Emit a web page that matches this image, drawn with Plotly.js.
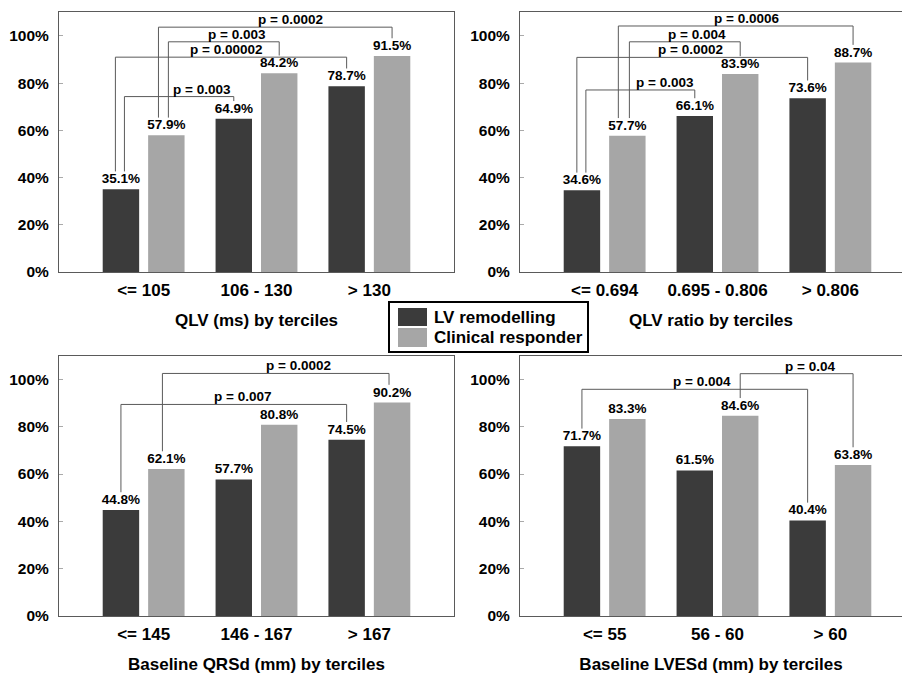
<!DOCTYPE html>
<html><head><meta charset="utf-8">
<script src="https://cdn.plot.ly/plotly-3.0.1.min.js"></script>
<style>html,body{margin:0;padding:0;background:#fff}#chart{width:902px;height:675px}</style>
</head><body><div id="chart"></div>
<script>
// ---------- data ----------
const seriesNames = ['LV remodelling', 'Clinical responder'];

const qlvCats = ['<= 105', '106 - 130', '> 130'];
const qlvLV = [35.1, 64.9, 78.7];
const qlvCR = [57.9, 84.2, 91.5];
const qlvP = ['0.0002', '0.003', '0.00002', '0.003'];
// comparisons: [categoryA, seriesA, categoryB, seriesB]  (series 0 = LV, 1 = CR)
const qlvPairs = [[0, 1, 2, 1], [0, 1, 1, 1], [0, 0, 2, 0], [0, 0, 1, 0]];

const ratioCats = ['<= 0.694', '0.695 - 0.806', '> 0.806'];
const ratioLV = [34.6, 66.1, 73.6];
const ratioCR = [57.7, 83.9, 88.7];
const ratioP = ['0.0006', '0.004', '0.0002', '0.003'];
const ratioPairs = [[0, 1, 2, 1], [0, 1, 1, 1], [0, 0, 2, 0], [0, 0, 1, 0]];

const qrsCats = ['<= 145', '146 - 167', '> 167'];
const qrsLV = [44.8, 57.7, 74.5];
const qrsCR = [62.1, 80.8, 90.2];
const qrsP = ['0.0002', '0.007'];
const qrsPairs = [[0, 1, 2, 1], [0, 0, 2, 0]];

const lvesCats = ['<= 55', '56 - 60', '> 60'];
const lvesLV = [71.7, 61.5, 40.4];
const lvesCR = [83.3, 84.6, 63.8];
const lvesP = ['0.04', '0.004'];
const lvesPairs = [[1, 1, 2, 1], [0, 0, 2, 0]];

const axisTitles = ['QLV (ms) by terciles', 'QLV ratio by terciles',
                    'Baseline QRSd (mm) by terciles', 'Baseline LVESd (mm) by terciles'];
const yTicks = [0, 20, 40, 60, 80, 100];
const yTickLabels = ['0%', '20%', '40%', '60%', '80%', '100%'];

// ---------- layout / style ----------
const W = 902, H = 675;
const DARK = '#3b3b3b', LIGHT = '#a6a6a6', FRAME = '#5a5a5a';
const FONT = 'Liberation Sans, Arial, sans-serif';
const BARGAP = 0.195, GROUPGAP = 0.198;
const OFF = (1 - BARGAP) / 4;   // bar centre offset from category centre
const LIFT = 7.5;               // bracket end clearance above bar

// bracket placement: level (y), small x-offsets at ends, text x
const bracketLayouts = [
  [{h: 103.7, da: -0.07, db: 0, tx: 1.30}, {h: 97.5, da: 0.018, db: 0, tx: 0.823},
   {h: 91.0, da: -0.049, db: 0, tx: 0.726}, {h: 74.3, da: 0.031, db: 0, tx: 0.513}],
  [{h: 104.2, da: -0.08, db: 0, tx: 1.26}, {h: 97.5, da: 0.018, db: 0, tx: 0.817},
   {h: 90.9, da: -0.045, db: 0, tx: 0.76}, {h: 77.1, da: 0.035, db: 0, tx: 0.534}],
  [{h: 102.5, da: -0.035, db: -0.027, tx: 1.37}, {h: 89.4, da: 0, db: 0, tx: 0.877}],
  [{h: 102.4, da: 0, db: 0, tx: 1.82}, {h: 95.8, da: 0, db: 0, tx: 0.866}]
];

const panels = [
  {cats: qlvCats, lv: qlvLV, cr: qlvCR, p: qlvP, pairs: qlvPairs},
  {cats: ratioCats, lv: ratioLV, cr: ratioCR, p: ratioP, pairs: ratioPairs},
  {cats: qrsCats, lv: qrsLV, cr: qrsCR, p: qrsP, pairs: qrsPairs},
  {cats: lvesCats, lv: lvesLV, cr: lvesCR, p: lvesP, pairs: lvesPairs}
];

// pixel geometry of frames
const UNIT = 395 / 3.5;
const xDomL = [59 / W, 454 / W], xDomR = [520 / W, 1];
const yDomT = [1 - 272 / H, 1 - 12.3 / H], yDomB = [1 - 616 / H, 1 - 355.7 / H];
const rangeL = [-0.75, 2.75], rangeR = [-0.75, -0.75 + (W - 520) / UNIT];

const traces = [];
const shapes = [];
const annotations = [];
const layout = {
  width: W, height: H,
  margin: {l: 0, r: 0, t: 0, b: 0},
  paper_bgcolor: '#fff', plot_bgcolor: '#fff',
  showlegend: false,
  barmode: 'group', bargap: BARGAP, bargroupgap: GROUPGAP,
  font: {family: FONT, color: '#000'}
};

panels.forEach((pn, i) => {
  const n = i + 1;
  const xa = 'x' + (n === 1 ? '' : n), ya = 'y' + (n === 1 ? '' : n);
  const isLeft = (i % 2 === 0), isTop = i < 2;
  const barCommon = {
    type: 'bar', x: pn.cats, xaxis: xa, yaxis: ya,
    texttemplate: '%{y:.1f}%', textposition: 'outside', constraintext: 'none',
    cliponaxis: false,
    textfont: {family: FONT, size: 13.5, weight: 'bold', color: '#000'},
    hoverinfo: 'skip'
  };
  traces.push(Object.assign({}, barCommon, {y: pn.lv, name: seriesNames[0], marker: {color: DARK, line: {width: 0}}}));
  traces.push(Object.assign({}, barCommon, {y: pn.cr, name: seriesNames[1], marker: {color: LIGHT, line: {width: 0}}}));

  layout['xaxis' + (n === 1 ? '' : n)] = {
    domain: isLeft ? xDomL : xDomR,
    anchor: ya, type: 'category',
    range: isLeft ? rangeL : rangeR,
    showline: true, mirror: true, linecolor: FRAME, linewidth: 1,
    ticks: '', showgrid: false, zeroline: false,
    tickfont: {family: FONT, size: 17, weight: 'bold', color: '#000'},
    ticklabelstandoff: 3,
    title: {text: axisTitles[i], font: {family: FONT, size: 17, weight: 'bold', color: '#000'}, standoff: 14},
    fixedrange: true
  };
  layout['yaxis' + (n === 1 ? '' : n)] = {
    domain: isTop ? yDomT : yDomB,
    anchor: xa, range: [0, 110],
    tickmode: 'array', tickvals: yTicks, ticktext: yTickLabels,
    ticks: 'inside', ticklen: 4, tickcolor: '#aaaaaa', tickwidth: 1,
    showline: true, mirror: isLeft, linecolor: FRAME, linewidth: 1,
    showgrid: false, zeroline: false,
    tickfont: {family: FONT, size: 15.5, weight: 'bold', color: '#000'},
    ticklabelstandoff: 6,
    fixedrange: true
  };

  const vals = [pn.lv, pn.cr];
  pn.pairs.forEach((pr, k) => {
    const L = bracketLayouts[i][k];
    const xA = pr[0] + (pr[1] === 0 ? -OFF : OFF) + L.da;
    const xB = pr[2] + (pr[3] === 0 ? -OFF : OFF) + L.db;
    const yA = vals[pr[1]][pr[0]] + LIFT;
    const yB = vals[pr[3]][pr[2]] + LIFT;
    const ln = {color: FRAME, width: 1};
    shapes.push({type: 'line', xref: xa, yref: ya, x0: xA, x1: xA, y0: yA, y1: L.h, line: ln});
    shapes.push({type: 'line', xref: xa, yref: ya, x0: xA, x1: xB, y0: L.h, y1: L.h, line: ln});
    shapes.push({type: 'line', xref: xa, yref: ya, x0: xB, x1: xB, y0: L.h, y1: yB, line: ln});
    annotations.push({
      xref: xa, yref: ya, x: L.tx, y: L.h, xanchor: 'center', yanchor: 'bottom',
      text: 'p = ' + pn.p[k], showarrow: false, yshift: -2,
      font: {family: FONT, size: 13.5, weight: 'bold', color: '#000'}
    });
  });
});

// ---------- custom legend ----------
const px = v => v / W, py = v => 1 - v / H;
shapes.push({type: 'rect', xref: 'paper', yref: 'paper', x0: px(389), x1: px(588), y0: py(352), y1: py(302),
  line: {color: '#000', width: 2}, fillcolor: '#fff'});
shapes.push({type: 'rect', xref: 'paper', yref: 'paper', x0: px(398), x1: px(427), y0: py(326), y1: py(308),
  line: {width: 0}, fillcolor: DARK});
shapes.push({type: 'rect', xref: 'paper', yref: 'paper', x0: px(398), x1: px(427), y0: py(347), y1: py(328),
  line: {width: 0}, fillcolor: LIGHT});
[[seriesNames[0], 317], [seriesNames[1], 337.5]].forEach(([t, yy]) => {
  annotations.push({xref: 'paper', yref: 'paper', x: px(432), y: py(yy), xanchor: 'left', yanchor: 'middle',
    text: t, showarrow: false, font: {family: FONT, size: 17, weight: 'bold', color: '#000'}});
});

layout.shapes = shapes;
layout.annotations = annotations;

Plotly.newPlot('chart', traces, layout, {displayModeBar: false, staticPlot: true});
</script>
</body></html>
